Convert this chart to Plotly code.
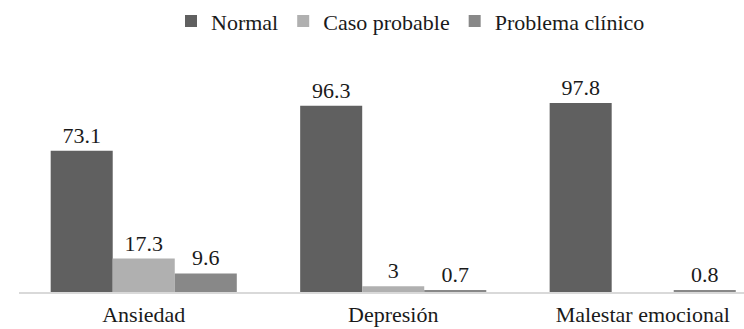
import plotly.graph_objects as go

categories = ["Ansiedad", "Depresión", "Malestar emocional"]
normal = [73.1, 96.3, 97.8]
caso_probable = [17.3, 3, None]
problema_clinico = [9.6, 0.7, 0.8]

series_names = ["Normal", "Caso probable", "Problema clínico"]
series_colors = ["#606060", "#b0b0b0", "#888888"]
series_values = [normal, caso_probable, problema_clinico]

FONT = "'Times New Roman', 'Liberation Serif', 'DejaVu Serif', serif"
TEXT_COLOR = "#1a1a1a"

fig = go.Figure()
for name, color, values in zip(series_names, series_colors, series_values):
    fig.add_trace(go.Bar(
        name=name,
        x=categories,
        y=values,
        marker=dict(color=color, line=dict(width=0)),
        text=[("" if v is None else f"{v:g}") for v in values],
        textposition="outside",
        textfont=dict(family=FONT, size=22, color=TEXT_COLOR),
        cliponaxis=False,
    ))

fig.update_layout(
    width=744,
    height=329,
    margin=dict(l=19, r=0, t=58, b=37),
    paper_bgcolor="white",
    plot_bgcolor="white",
    barmode="group",
    bargap=0.254,
    bargroupgap=0,
    font=dict(family=FONT, size=22, color=TEXT_COLOR),
    showlegend=True,
    legend=dict(
        orientation="h",
        x=0.54,
        xanchor="center",
        y=1.258,
        yanchor="top",
        yref="paper",
        font=dict(family=FONT, size=22, color=TEXT_COLOR),
        itemwidth=30,
        traceorder="normal",
    ),
    xaxis=dict(
        range=[-0.5, 2.406],
        showgrid=False,
        showline=True,
        linecolor="#d9d9d9",
        linewidth=1.5,
        ticks="",
        ticklabelstandoff=2,
        tickfont=dict(family=FONT, size=22, color=TEXT_COLOR),
    ),
    yaxis=dict(
        range=[0, 120],
        showgrid=False,
        showline=False,
        zeroline=False,
        showticklabels=False,
        ticks="",
    ),
)

fig.write_html("out.html")
